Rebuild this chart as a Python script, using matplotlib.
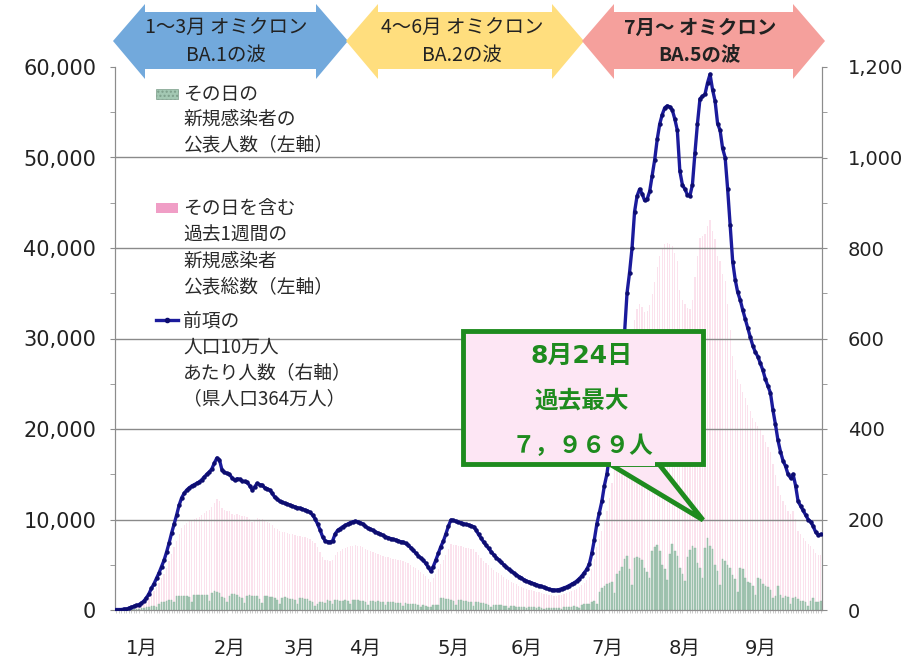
import matplotlib
matplotlib.use('Agg')
import matplotlib.pyplot as plt
from matplotlib.patches import Polygon, Rectangle
import numpy as np

plt.rcParams['font.family'] = ['DejaVu Sans', 'Noto Sans CJK JP']

# ---------------- data ----------------
# daily newly announced cases (left axis), from Jan 1
daily_cases = [
    10, 12, 8, 25, 35, 50, 70,
    90, 110, 80, 180, 250, 280, 320,
    400, 450, 380, 700, 850, 900, 980,
    1100, 1150, 900, 1500, 1550, 1600, 1590,
    1500, 1400, 900, 1700, 1650, 1700, 1630,
    1700, 1650, 1000, 1900, 2050, 1950, 1835,
    1400, 1350, 850, 1600, 1750, 1800, 1650,
    1450, 1300, 800, 1600, 1650, 1600, 1500,
    1500, 1250, 750, 1500, 1550, 1450, 1400,
    1300, 1150, 700, 1350, 1400, 1300, 1250,
    1200, 1100, 650, 1300, 1300, 1250, 1170,
    1000, 900, 400, 650, 900, 900, 820,
    1050, 950, 650, 1050, 1050, 1000, 950,
    1100, 1000, 650, 1100, 1100, 1050, 1025,
    1000, 900, 550, 950, 950, 900, 940,
    900, 850, 500, 900, 850, 850, 790,
    800, 750, 450, 750, 700, 700, 650,
    650, 550, 350, 500, 450, 350, 280,
    550, 500, 600, 1300, 1350, 1250, 1180,
    1150, 1000, 600, 1100, 1050, 1000, 980,
    900, 850, 450, 850, 850, 800, 760,
    650, 600, 350, 600, 560, 540, 520,
    480, 420, 250, 420, 400, 380, 350,
    360, 320, 180, 320, 300, 290, 270,
    280, 250, 140, 250, 240, 230, 210,
    250, 240, 150, 330, 370, 380, 355,
    400, 380, 250, 600, 650, 700, 700,
    900, 950, 700, 2000, 2400, 2600, 2825,
    3000, 3100, 1900, 4000, 4300, 4800, 5600,
    6000, 4500, 2800, 5800, 5900, 5700, 5500,
    4600, 4200, 3500, 6500, 7000, 7200, 6500,
    5000, 4500, 3300, 6200, 7300, 6500, 6000,
    4600, 4000, 3200, 5900, 6600, 7100, 6900,
    5200, 4600, 3500, 6800, 7969, 7100, 6691,
    5000, 4300, 2800, 5600, 5400, 5000, 4660,
    3900, 3400, 2000, 4600, 4500, 3500, 3130,
    3000, 2700, 1700, 3500, 3400, 2900, 2660,
    2500, 2200, 1300, 1500, 2600, 1700, 1360,
    1600, 1400, 700, 1300, 1400, 1200, 1030,
    1000, 900, 450, 950, 1300, 900, 840,
    950,
]

# weekly total per 100k population (right axis)
per100k = [
    1, 1, 1, 2, 2, 4, 6, 8, 10, 12,
    15, 20, 27, 36, 48, 58, 70, 82, 96, 110,
    128, 148, 170, 190, 210, 232, 248, 258, 265, 270,
    274, 277, 280, 283, 288, 294, 300, 305, 312, 325,
    336, 332, 310, 304, 302, 300, 292, 287, 290, 289,
    285, 284, 282, 275, 266, 272, 280, 277, 276, 270,
    268, 265, 258, 249, 245, 240, 238, 236, 234, 232,
    230, 228, 226, 225, 223, 221, 219, 216, 210, 202,
    190, 177, 162, 153, 151, 150, 153, 168, 176, 180,
    184, 187, 190, 193, 195, 196, 195, 193, 190, 185,
    181, 179, 176, 173, 170, 168, 165, 162, 160, 158,
    156, 155, 153, 151, 150, 147, 143, 138, 132, 126,
    120, 115, 110, 103, 95, 86, 96, 110, 125, 140,
    152, 168, 185, 199, 198, 196, 194, 193, 191, 189,
    188, 186, 184, 177, 167, 159, 150, 143, 136, 129,
    122, 116, 111, 105, 100, 95, 90, 86, 82, 78,
    74, 71, 67, 64, 62, 60, 58, 56, 54, 52,
    50, 48, 46, 45, 44, 44, 45, 47, 49, 51,
    54, 57, 60, 64, 69, 75, 82, 90, 101, 125,
    155, 190, 215, 240, 275, 300, 340, 385, 430, 475,
    520, 565, 610, 700, 745, 800, 880, 915, 930, 920,
    905, 908, 925, 960, 995, 1040, 1074, 1095, 1110, 1114,
    1112, 1105, 1085, 1060, 970, 940, 930, 918, 915, 940,
    1010, 1075, 1130, 1135, 1140, 1165, 1184, 1150, 1125, 1075,
    1060, 1020, 1000, 930, 850, 770, 730, 702, 685, 663,
    643, 623, 603, 584, 570, 560, 545, 530, 510, 495,
    480, 442, 410, 375, 350, 330, 318, 300, 292, 300,
    275, 240, 230, 220, 210, 200, 195, 185, 172, 166,
    167,
]
population_100k = 36.4  # 364万人
weekly_total = [v * population_100k for v in per100k]

month_labels = ['1月', '2月', '3月', '4月', '5月', '6月', '7月', '8月', '9月']
month_label_days = [10, 45, 73, 99, 134, 163, 195, 226, 256]
left_ticks = [0, 10000, 20000, 30000, 40000, 50000, 60000]
right_ticks = [0, 200, 400, 600, 800, 1000, 1200]

wave_titles = [('1〜3月 オミクロン', 'BA.1の波'),
               ('4〜6月 オミクロン', 'BA.2の波'),
               ('7月〜 オミクロン', 'BA.5の波')]
legend_daily = ['その日の', '新規感染者の', '公表人数（左軸）']
legend_weekly = ['その日を含む', '過去1週間の', '新規感染者', '公表総数（左軸）']
legend_line = ['前項の', '人口10万人', 'あたり人数（右軸）', '（県人口364万人）']
callout_lines = ['8月24日', '過去最大', '７，９６９人']

# ---------------- styling ----------------
PINK = '#fbe2ed'
GREEN = '#a3c8b3'
LINE = '#1b1b9c'
GRID = '#8a8a8a'
AXC = '#8c8c8c'
CJK = ['Noto Sans CJK JP', 'DejaVu Sans']

W, H = 910, 668
L, R, T, B = 115, 822, 67, 610
fig = plt.figure(figsize=(W / 100, H / 100), dpi=100)
fig.patch.set_facecolor('white')
ax = fig.add_axes([L / W, 1 - B / H, (R - L) / W, (B - T) / H])

days = np.arange(len(daily_cases))
ax.bar(days, weekly_total, width=0.5, color=PINK, zorder=1)
ax.bar(days, daily_cases, width=0.65, color=GREEN, edgecolor='#93b4a1',
       linewidth=0.3, zorder=2)
for v in left_ticks[1:-1]:
    ax.axhline(v, color=GRID, lw=1.0, zorder=3)

ax.set_xlim(-0.5, len(days) - 0.5)
ax.set_ylim(0, 60000)
ax.set_yticks(left_ticks)
ax.set_yticklabels([f'{v:,}' for v in left_ticks])
ax.set_yticks(np.arange(0, 60001, 5000), minor=True)
ax.tick_params(axis='y', which='both', direction='out', length=3.5, color=AXC,
               labelsize=15, pad=10, labelcolor='#222')
ax.set_xticks(month_label_days)
ax.set_xticklabels(month_labels)
ax.tick_params(axis='x', which='major', length=0, pad=21, labelsize=14,
               labelcolor='#222')
ax.set_xticks(days, minor=True)
ax.tick_params(axis='x', which='minor', length=2.5, color='#b8b8b8', width=0.5)
ax.spines['top'].set_visible(False)
for s in ['left', 'right', 'bottom']:
    ax.spines[s].set_color(AXC)
ax.patch.set_alpha(0)

ax2 = ax.twinx()
ax2.plot(days, per100k, color=LINE, lw=2.4, marker='o', markersize=2.2,
         markerfacecolor='#0d0d70', markeredgecolor='#0d0d70', zorder=5)
ax2.set_ylim(0, 1200)
ax2.set_yticks(right_ticks)
ax2.set_yticklabels([f'{v:,}' for v in right_ticks])
ax2.set_yticks(np.arange(0, 1201, 100), minor=True)
ax2.tick_params(axis='y', which='both', direction='out', length=3.5, color=AXC,
                labelsize=14, pad=15, labelcolor='#222')
ax2.spines['top'].set_visible(False)
for s in ['left', 'right', 'bottom']:
    ax2.spines[s].set_color(AXC)

# ---------------- overlay (pixel coordinates) ----------------
ov = fig.add_axes([0, 0, 1, 1], zorder=10)
ov.set_xlim(0, W)
ov.set_ylim(H, 0)
ov.axis('off')
ov.patch.set_alpha(0)


def double_arrow(x0, x1, color):
    yc, hw, ht, hb, bt, bb = 41, 32, 4, 79, 12, 69
    pts = [(x0, yc), (x0 + hw, ht), (x0 + hw, bt), (x1 - hw, bt), (x1 - hw, ht),
           (x1, yc), (x1 - hw, hb), (x1 - hw, bb), (x0 + hw, bb), (x0 + hw, hb)]
    ov.add_patch(Polygon(pts, closed=True, facecolor=color, edgecolor='none'))


arrows = [(113, 348, '#72a9dc', 226, 'normal'),
          (346, 584, '#ffde7e', 462, 'normal'),
          (582, 825, '#f5a09c', 700, 'bold')]
for (x0, x1, col, cx, wt), (l1, l2) in zip(arrows, wave_titles):
    double_arrow(x0, x1, col)
    ov.text(cx, 28, l1, ha='center', va='center', fontsize=14,
            family=CJK, color='#222', fontweight=wt)
    ov.text(cx, 55, l2, ha='center', va='center', fontsize=14,
            family=CJK, color='#222', fontweight=wt)

# legend
ov.add_patch(Rectangle((156, 89), 22, 10, facecolor=GREEN, edgecolor='#7c9e8a',
                       hatch='....', lw=0.5))
ov.add_patch(Rectangle((156, 203), 22, 10, facecolor='#f09ec6', edgecolor='none'))
ov.plot([156, 178], [320, 320], color=LINE, lw=2.4)
ov.plot([167], [320], 'o', color='#0d0d70', markersize=3)
for ys, lines in [([94, 119, 145], legend_daily),
                  ([209, 235, 261, 288], legend_weekly),
                  ([321, 347, 373, 399], legend_line)]:
    for y, t in zip(ys, lines):
        ov.text(183, y, t, ha='left', va='center', fontsize=13.5,
                family=CJK, color='#2a2a2a')

# callout
GREEN_D = '#1e8b1e'
ov.add_patch(Polygon([(608, 463), (703, 520), (658, 463)], closed=True,
                     facecolor='#fde6f4', edgecolor=GREEN_D, lw=3.5, zorder=1))
ov.add_patch(Rectangle((463, 331), 240, 133, facecolor='#fde6f4',
                       edgecolor=GREEN_D, lw=3.5, zorder=2))
ov.add_patch(Rectangle((611, 459), 44, 7, facecolor='#fde6f4',
                       edgecolor='none', zorder=3))
ov.text(582, 356, callout_lines[0], ha='center', va='center', fontsize=18,
        family=['DejaVu Sans', 'Noto Sans CJK JP'], color=GREEN_D,
        fontweight='bold', zorder=4)
for y, t in zip([401, 446], callout_lines[1:]):
    ov.text(582, y, t, ha='center', va='center', fontsize=17,
            family=CJK, color=GREEN_D, fontweight='bold', zorder=4)

fig.savefig('out.png', dpi=100, facecolor='white')
